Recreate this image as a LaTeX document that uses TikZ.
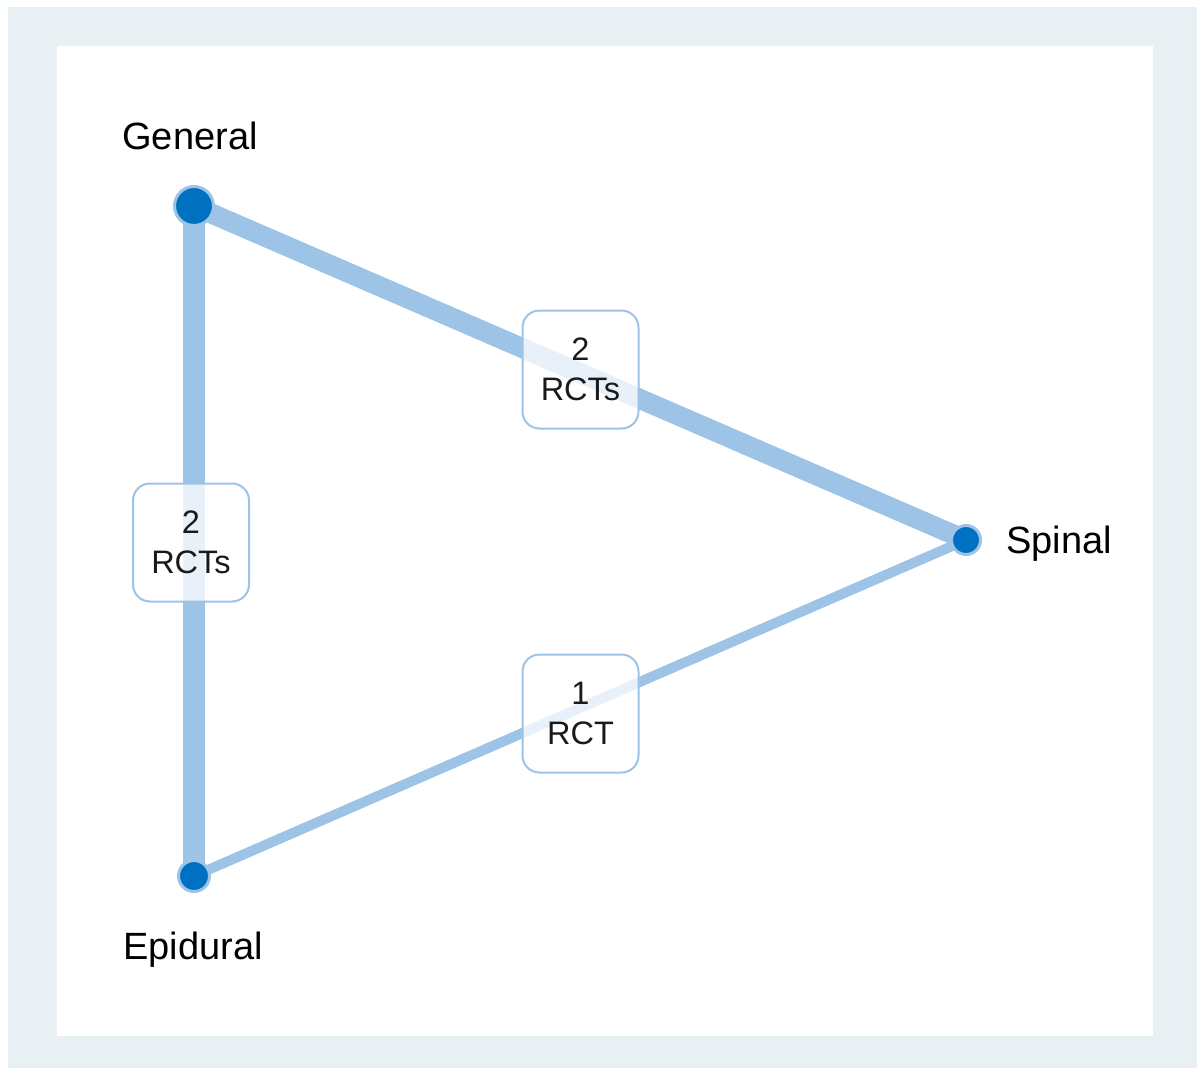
\documentclass[tikz,border=0pt]{standalone}
\usepackage{fontspec}
\setmainfont{Liberation Sans}
\usetikzlibrary{backgrounds}
\definecolor{frameg}{HTML}{E8F0F3}
\definecolor{edgeb}{HTML}{9DC3E6}
\definecolor{nodeb}{HTML}{0070C0}
\definecolor{txt}{HTML}{1A1A1A}
\tikzset{
  trt/.style={circle, fill=nodeb, draw=edgeb, line width=3pt, inner sep=0pt},
  lbl/.style={anchor=base, text=black, font=\fontsize{38}{42}\selectfont, inner sep=0pt},
  cnt/.style={draw=edgeb, line width=2pt, rounded corners=17pt, fill=white, fill opacity=0.77, text opacity=1,
    minimum width=116pt, minimum height=118pt, align=center, text=txt, inner sep=0pt,
    font=\fontsize{32.5}{40}\selectfont},
  edg/.style={draw=edgeb}
}
\begin{document}
\begin{tikzpicture}[x=1pt,y=-1pt]
\useasboundingbox (0,0) rectangle (1203,1068);
\node[trt, minimum size=39pt] (G) at (194,206) {};
\node[trt, minimum size=29pt] (S) at (966,540) {};
\node[trt, minimum size=31pt] (E) at (194,876) {};
\begin{pgfonlayer}{background}
\fill[frameg] (8,7) rectangle (1197,1068);
\fill[white] (57,46) rectangle (1153,1036);
\draw[edg, line width=22pt] (G.center) -- (E.center);
\draw[edg, line width=20pt] (G.center) -- (S.center);
\draw[edg, line width=10pt] (E.center) -- (S.center);
\end{pgfonlayer}
\node[cnt] (GS) at (580.5,369.5) {2\\RCTs};
\node[cnt] (GE) at (191,542.5) {2\\RCTs};
\node[cnt] (ES) at (580.5,713.5) {1\\RCT};
\node[lbl] (LG) at (190,149) {General};
\node[lbl, anchor=base west] (LS) at (1006,553) {Spinal};
\node[lbl] (LE) at (193,959) {Epidural};
\end{tikzpicture}
\end{document}
